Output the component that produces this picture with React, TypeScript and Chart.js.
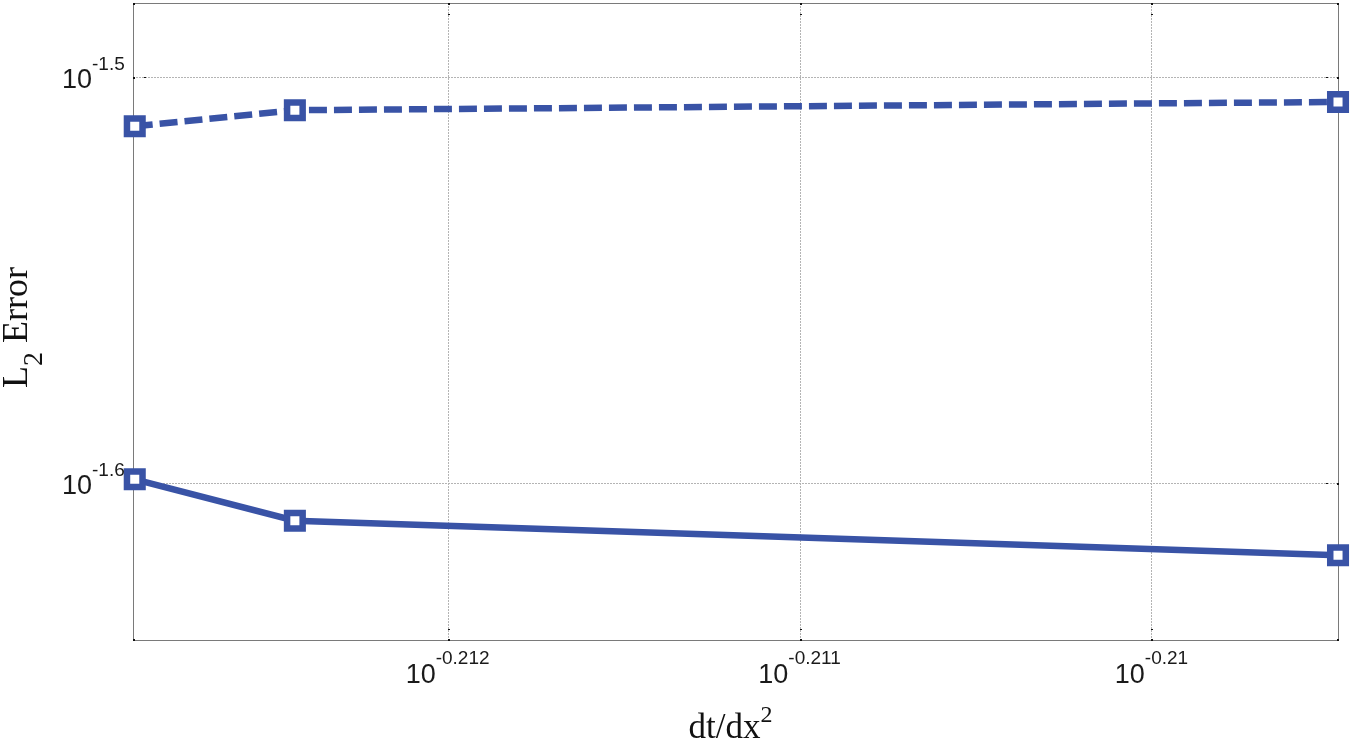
import React, { useEffect, useRef } from "react";
import { Chart, registerables } from "chart.js";

Chart.register(...registerables);

// Data (log-log axes)
const dtOverDx2 = [0.612507, 0.613149, 0.617348];
const errorDashed = [0.030745, 0.031025, 0.031171];
const errorSolid = [0.025168, 0.024584, 0.024107];

const xTickExponents = [-0.212, -0.211, -0.21];
const xTickLabels = ["-0.212", "-0.211", "-0.21"];
const yTickExponents = [-1.5, -1.6];
const yTickLabels = ["-1.5", "-1.6"];
const xRangeExponents = [-0.212889, -0.20947];
const yRangeExponents = [-1.63871, -1.48189];

const lineColor = "#3953a6";

const decorPlugin = {
  id: "matlabDecor",
  beforeDatasetsDraw(chart: any) {
    const { ctx, chartArea, scales } = chart;
    const { left, right, top, bottom } = chartArea;
    const xs = scales.x;
    const ys = scales.y;
    ctx.save();
    // grid lines (dotted)
    ctx.strokeStyle = "#b4b4b4";
    ctx.lineWidth = 1;
    ctx.setLineDash([2, 1]);
    xTickExponents.forEach((e) => {
      const px = Math.round(xs.getPixelForValue(Math.pow(10, e))) + 0.5;
      ctx.beginPath();
      ctx.moveTo(px, top);
      ctx.lineTo(px, bottom);
      ctx.stroke();
    });
    yTickExponents.forEach((e) => {
      const py = Math.round(ys.getPixelForValue(Math.pow(10, e))) + 0.5;
      ctx.beginPath();
      ctx.moveTo(left, py);
      ctx.lineTo(right, py);
      ctx.stroke();
    });
    ctx.setLineDash([]);
    // frame
    ctx.strokeStyle = "#7a7a7a";
    ctx.lineWidth = 1;
    ctx.strokeRect(Math.round(left) + 0.5, Math.round(top) + 0.5, Math.round(right - left), Math.round(bottom - top));
    // tick marks (ends visible)
    ctx.fillStyle = "#111";
    const L = 11;
    xTickExponents.forEach((e) => {
      const px = Math.round(xs.getPixelForValue(Math.pow(10, e)));
      ctx.fillRect(px, top, 2, 2);
      ctx.fillRect(px, top + L, 2, 1);
      ctx.fillRect(px, bottom - 1, 2, 2);
      ctx.fillRect(px, bottom - L, 2, 1);
    });
    yTickExponents.forEach((e) => {
      const py = Math.round(ys.getPixelForValue(Math.pow(10, e)));
      ctx.fillRect(left, py, 2, 2);
      ctx.fillRect(left + L, py, 2, 1);
      ctx.fillRect(right - 1, py, 2, 2);
      ctx.fillRect(right - L - 1, py, 2, 1);
    });
    [[left, top], [right - 1, top], [left, bottom - 1], [right - 1, bottom - 1]].forEach(([a, b]) => {
      ctx.fillRect(Math.round(a), Math.round(b), 2, 2);
    });
    ctx.restore();
  },
  afterDraw(chart: any) {
    const { ctx, scales } = chart;
    const xs = scales.x;
    const ys = scales.y;
    ctx.save();
    ctx.fillStyle = "#1a1a1a";
    const baseFont = '27px "Liberation Sans", Arial, sans-serif';
    const supFont = '19px "Liberation Sans", Arial, sans-serif';
    // x tick labels
    xTickExponents.forEach((e, i) => {
      const px = xs.getPixelForValue(Math.pow(10, e));
      ctx.font = baseFont;
      const w1 = ctx.measureText("10").width;
      ctx.font = supFont;
      const w2 = ctx.measureText(xTickLabels[i]).width;
      const start = px - (w1 + w2) / 2;
      ctx.textAlign = "left";
      ctx.textBaseline = "alphabetic";
      ctx.font = baseFont;
      ctx.fillText("10", start, 683);
      ctx.font = supFont;
      ctx.fillText(xTickLabels[i], start + w1, 664);
    });
    // y tick labels
    yTickExponents.forEach((e, i) => {
      const py = ys.getPixelForValue(Math.pow(10, e));
      ctx.textBaseline = "alphabetic";
      ctx.font = baseFont;
      ctx.textAlign = "right";
      ctx.fillText("10", 92, py + 11);
      ctx.font = supFont;
      ctx.textAlign = "left";
      ctx.fillText(yTickLabels[i], 92, py - 7);
    });
    // x axis title: dt/dx^2
    ctx.fillStyle = "#111";
    ctx.textAlign = "left";
    ctx.font = '35px "Liberation Serif", "Times New Roman", serif';
    const tMain = "dt/dx";
    const wMain = ctx.measureText(tMain).width;
    ctx.font = '24px "Liberation Serif", "Times New Roman", serif';
    const wSup = ctx.measureText("2").width;
    const cx = (chart.chartArea.left + chart.chartArea.right) / 2 - 5;
    const sx = cx - (wMain + wSup) / 2;
    ctx.font = '35px "Liberation Serif", "Times New Roman", serif';
    ctx.fillText(tMain, sx, 738);
    ctx.font = '24px "Liberation Serif", "Times New Roman", serif';
    ctx.fillText("2", sx + wMain, 722);
    // y axis title: L_2 Error (rotated)
    ctx.save();
    ctx.translate(26.5, 388);
    ctx.rotate(-Math.PI / 2);
    ctx.font = '36px "Liberation Serif", "Times New Roman", serif';
    ctx.fillText("L", 0, 0);
    const wL = ctx.measureText("L").width;
    ctx.font = '28px "Liberation Serif", "Times New Roman", serif';
    ctx.fillText("2", wL, 15);
    const w2 = ctx.measureText("2").width;
    ctx.font = '36px "Liberation Serif", "Times New Roman", serif';
    ctx.fillText(" Error", wL + w2, 0);
    ctx.restore();
    ctx.restore();
  },
};

export default function App() {
  const canvasRef = useRef<HTMLCanvasElement | null>(null);

  useEffect(() => {
    const canvas = canvasRef.current;
    if (!canvas) return;
    const pointStyleOpts = {
      pointStyle: "rect" as const,
      pointRadius: 11,
      pointHoverRadius: 11,
      pointBorderWidth: 6.5,
      pointBackgroundColor: "#ffffff",
      pointBorderColor: lineColor,
    };
    const chart = new Chart(canvas, {
      type: "line",
      data: {
        datasets: [
          {
            label: "dashed",
            data: dtOverDx2.map((x, i) => ({ x, y: errorDashed[i] })),
            borderColor: lineColor,
            borderWidth: 6.5,
            borderDash: [18, 7],
            fill: false,
            tension: 0,
            clip: false as any,
            ...pointStyleOpts,
          },
          {
            label: "solid",
            data: dtOverDx2.map((x, i) => ({ x, y: errorSolid[i] })),
            borderColor: lineColor,
            borderWidth: 6.5,
            fill: false,
            tension: 0,
            clip: false as any,
            ...pointStyleOpts,
          },
        ],
      },
      options: {
        responsive: false,
        animation: false,
        devicePixelRatio: 1,
        layout: { autoPadding: false, padding: { left: 133, top: 3, right: 14, bottom: 102 } },
        plugins: { legend: { display: false }, tooltip: { enabled: false }, title: { display: false } },
        scales: {
          x: {
            type: "logarithmic",
            display: false,
            min: Math.pow(10, xRangeExponents[0]),
            max: Math.pow(10, xRangeExponents[1]),
            afterBuildTicks: (scale: any) => {
              scale.ticks = xTickExponents.map((e) => ({ value: Math.pow(10, e) }));
            },
          },
          y: {
            type: "logarithmic",
            display: false,
            min: Math.pow(10, yRangeExponents[0]),
            max: Math.pow(10, yRangeExponents[1]),
            afterBuildTicks: (scale: any) => {
              scale.ticks = yTickExponents.map((e) => ({ value: Math.pow(10, e) }));
            },
          },
        },
      },
      plugins: [decorPlugin],
    });
    return () => chart.destroy();
  }, []);

  return (
    <div style={{ position: "absolute", left: 0, top: 0, width: 1352, height: 742, background: "#fff" }}>
      <canvas ref={canvasRef} width={1352} height={742} style={{ display: "block" }} />
    </div>
  );
}
